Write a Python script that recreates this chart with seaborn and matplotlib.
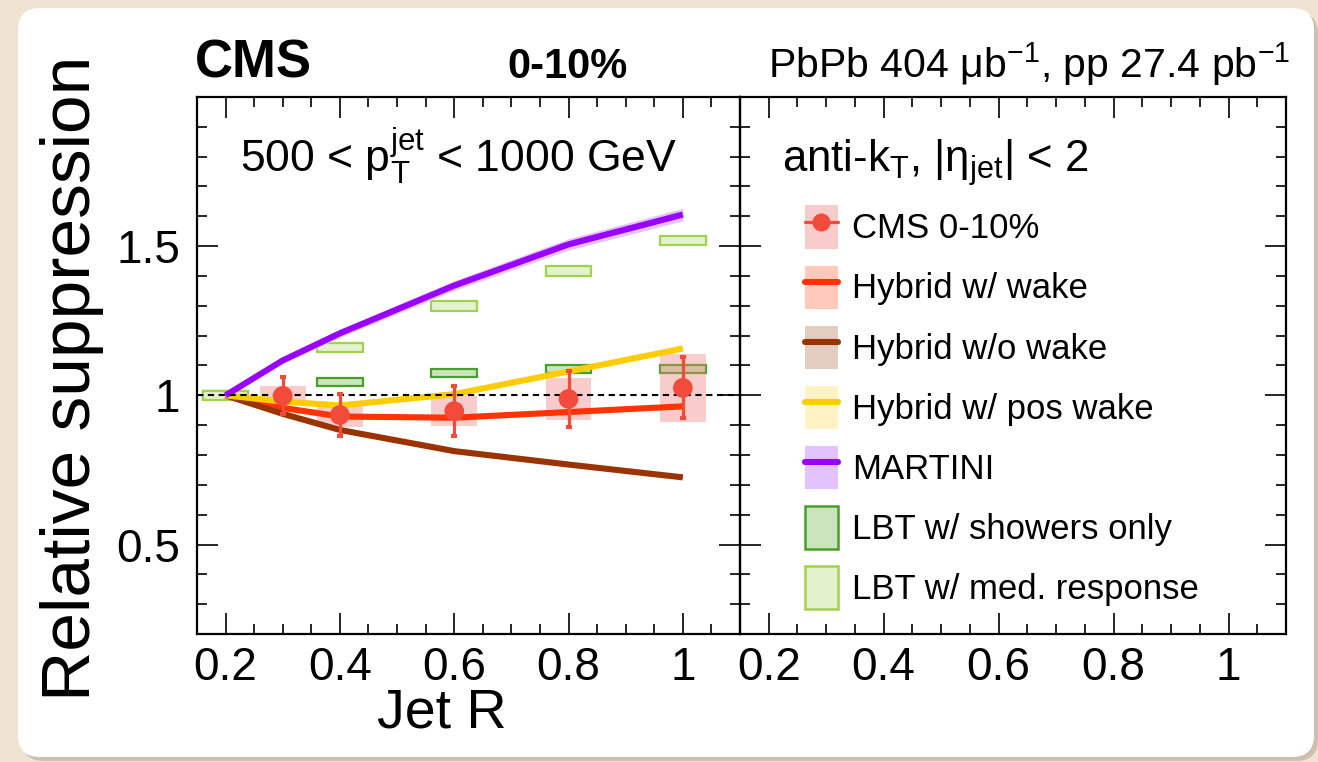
import numpy as np
import pandas as pd
import matplotlib
matplotlib.use("Agg")
import matplotlib.pyplot as plt
import seaborn as sns
from matplotlib.patches import FancyBboxPatch, Patch
from matplotlib.lines import Line2D
from matplotlib.ticker import MultipleLocator, FixedLocator, FuncFormatter

# ---------------- data ----------------
model_R = [0.2, 0.3, 0.4, 0.6, 0.8, 1.0]
hybrid_wake = [1.0, 0.958, 0.929, 0.925, 0.944, 0.963]
hybrid_nowake = [1.0, 0.938, 0.884, 0.813, 0.768, 0.725]
hybrid_poswake = [1.0, 0.979, 0.966, 1.004, 1.080, 1.157]
martini = [1.0, 1.117, 1.208, 1.368, 1.506, 1.606]
martini_unc = [0.0, 0.010, 0.013, 0.016, 0.019, 0.021]

lbt_R = [0.2, 0.4, 0.6, 0.8, 1.0]
lbt_showers = [1.0, 1.045, 1.074, 1.088, 1.088]
lbt_showers_unc = [0.013, 0.013, 0.013, 0.013, 0.013]
lbt_medium = [1.0, 1.160, 1.299, 1.417, 1.519]
lbt_medium_unc = [0.016, 0.016, 0.016, 0.016, 0.016]

cms_R = [0.3, 0.4, 0.6, 0.8, 1.0]
cms_val = [0.998, 0.934, 0.947, 0.988, 1.025]
cms_stat = [0.062, 0.070, 0.084, 0.095, 0.102]
cms_syst = [0.032, 0.041, 0.050, 0.070, 0.115]

x_ticks = [0.2, 0.4, 0.6, 0.8, 1.0]
y_ticks = [0.5, 1.0, 1.5]

model_names = ["Hybrid w/ wake", "Hybrid w/o wake", "Hybrid w/ pos wake", "MARTINI"]
model_values = [hybrid_wake, hybrid_nowake, hybrid_poswake, martini]

# ---------------- style ----------------
sns.set_theme(style="ticks")
plt.rcParams["font.family"] = ["Liberation Sans", "DejaVu Sans"]
plt.rcParams["mathtext.fontset"] = "custom"
plt.rcParams["mathtext.rm"] = "Liberation Sans"
plt.rcParams["mathtext.it"] = "Liberation Sans:italic"
plt.rcParams["mathtext.bf"] = "Liberation Sans:bold"
for key in ["text.color", "axes.labelcolor", "xtick.color", "ytick.color",
            "xtick.labelcolor", "ytick.labelcolor", "axes.edgecolor"]:
    plt.rcParams[key] = "black"

line_colors = {"Hybrid w/ wake": "#ff3300", "Hybrid w/o wake": "#993300",
               "Hybrid w/ pos wake": "#ffcc00", "MARTINI": "#9900ff"}
band_colors = {"Hybrid w/ wake": "#ffc9bc", "Hybrid w/o wake": "#e3ccc0",
               "Hybrid w/ pos wake": "#fff2c4", "MARTINI": "#e2c2ff"}
cms_color = "#f24b3c"
cms_box = "#f08080"
lbt_sh_face, lbt_sh_edge = "#cce4be", "#48a028"
lbt_md_face, lbt_md_edge = "#e4f1cd", "#a0d250"

W, H = 1318, 762
fig = plt.figure(figsize=(W / 100, H / 100), dpi=100)
fig.patch.set_facecolor("#efe3d2")

# background card
bg = fig.add_axes([0, 0, 1, 1], zorder=-10)
bg.set_xlim(0, W)
bg.set_ylim(H, 0)
bg.axis("off")
bg.add_patch(FancyBboxPatch((22, 12), 1296, 749, boxstyle="round,pad=0,rounding_size=22",
                            facecolor="#b9aa98", edgecolor="none", alpha=0.6))
bg.add_patch(FancyBboxPatch((18, 8), 1296, 749, boxstyle="round,pad=0,rounding_size=22",
                            facecolor="white", edgecolor="none"))


def px_rect(x0, x1, y0, y1):
    return [x0 / W, 1 - y1 / H, (x1 - x0) / W, (y1 - y0) / H]


axL = fig.add_axes(px_rect(197, 740, 97, 634))
axR = fig.add_axes(px_rect(740, 1286, 97, 634))

# ---------------- left panel ----------------
# LBT boxes
axL.bar(lbt_R, [2 * u for u in lbt_showers_unc],
        bottom=[v - u for v, u in zip(lbt_showers, lbt_showers_unc)],
        width=0.08, color=lbt_sh_face, edgecolor=lbt_sh_edge, linewidth=1.6, zorder=2)
axL.bar(lbt_R, [2 * u for u in lbt_medium_unc],
        bottom=[v - u for v, u in zip(lbt_medium, lbt_medium_unc)],
        width=0.08, color=lbt_md_face, edgecolor=lbt_md_edge, linewidth=1.6, zorder=2)

# CMS systematic boxes
axL.bar(cms_R, [2 * s for s in cms_syst],
        bottom=[v - s for v, s in zip(cms_val, cms_syst)],
        width=0.08, color=cms_box, alpha=0.4, edgecolor="none", zorder=3)

# MARTINI band
m = np.array(martini)
mu = np.array(martini_unc)
axL.fill_between(model_R, m - mu, m + mu, color=band_colors["MARTINI"], lw=0, zorder=3.5)

# model lines
df = pd.DataFrame({
    "R": np.concatenate([model_R] * len(model_names)),
    "value": np.concatenate(model_values),
    "model": np.repeat(model_names, len(model_R)),
})
sns.lineplot(data=df, x="R", y="value", hue="model", hue_order=model_names,
             palette=line_colors, linewidth=4.4, legend=False, ax=axL,
             zorder=4, solid_capstyle="butt")

axL.axhline(1.0, color="black", lw=1.5, ls=(0, (3.0, 2.2)), zorder=5)

# CMS points
axL.errorbar(cms_R, cms_val, yerr=cms_stat, fmt="none", ecolor=cms_color,
             elinewidth=2.3, capsize=2.2, capthick=3, zorder=6)
sns.scatterplot(x=cms_R, y=cms_val, color=cms_color, s=200, edgecolor="none",
                ax=axL, zorder=7)

axL.set_xlabel("")
axL.set_ylabel("")

# ---------------- axes styling ----------------
fmt = FuncFormatter(lambda v, p: f"{v:g}")
for ax in (axL, axR):
    ax.set_xlim(0.15, 1.1)
    ax.set_ylim(0.2, 2.0)
    ax.xaxis.set_major_locator(FixedLocator(x_ticks))
    ax.xaxis.set_minor_locator(MultipleLocator(0.05))
    ax.yaxis.set_major_locator(FixedLocator(y_ticks))
    ax.yaxis.set_minor_locator(MultipleLocator(0.1))
    ax.xaxis.set_major_formatter(fmt)
    ax.yaxis.set_major_formatter(fmt)
    ax.tick_params(which="both", direction="in", top=True, right=True,
                   color="black", width=1.2, labelsize=33, pad=9, labelcolor="black")
    ax.tick_params(which="major", length=15)
    ax.tick_params(which="minor", length=7.5)
    for sp in ax.spines.values():
        sp.set_linewidth(1.6)
        sp.set_color("black")
    ax.set_facecolor("none")
    ax.grid(False)
axL.tick_params(axis="y", pad=12)
axR.tick_params(axis="y", labelleft=False)

# ---------------- legend ----------------
handles = [
    (Patch(facecolor=cms_box, alpha=0.4, edgecolor="none"),
     Line2D([], [], color=cms_color, lw=2.3, marker="o", ms=13, markeredgewidth=0)),
]
for name in model_names:
    handles.append((Patch(facecolor=band_colors[name], edgecolor="none"),
                    Line2D([], [], color=line_colors[name], lw=4.4)))
handles.append(Patch(facecolor=lbt_sh_face, edgecolor=lbt_sh_edge, lw=1.8))
handles.append(Patch(facecolor=lbt_md_face, edgecolor=lbt_md_edge, lw=1.8))
labels = ["CMS 0-10%"] + model_names + ["LBT w/ showers only", "LBT w/ med. response"]
axR.legend(handles, labels, loc="upper left", bbox_to_anchor=(0.119, 0.798),
           frameon=False, fontsize=25, handlelength=0.95, handleheight=1.53,
           labelspacing=0.49, handletextpad=0.4, borderpad=0, borderaxespad=0,
           labelcolor="black")

# ---------------- texts ----------------
def fx(x):
    return x / W


def fy(y):
    return 1 - y / H


fig.text(fx(195), fy(78), "CMS", fontsize=38, fontweight="bold", va="baseline", ha="left")
fig.text(fx(507), fy(78), "0-10%", fontsize=30, fontweight="bold", va="baseline", ha="left")
fig.text(fx(1290), fy(78), r"PbPb 404 μb$^{-1}$, pp 27.4 pb$^{-1}$", fontsize=29.5,
         va="baseline", ha="right")
fig.text(fx(240), fy(172), r"500 < $\mathregular{p_T^{jet}}$ < 1000 GeV", fontsize=32,
         va="baseline", ha="left")
fig.text(fx(782), fy(172), r"anti-$\mathregular{k_T}$, $\mathregular{|\eta_{jet}|}$ < 2",
         fontsize=31.5, va="baseline", ha="left")
fig.text(fx(72), fy(378), "Relative suppression", fontsize=50, rotation=90,
         ha="center", va="center")
fig.text(fx(442), fy(713), "Jet R", fontsize=40, ha="center", va="center")

fig.savefig("out.png", dpi=100, facecolor=fig.get_facecolor())
